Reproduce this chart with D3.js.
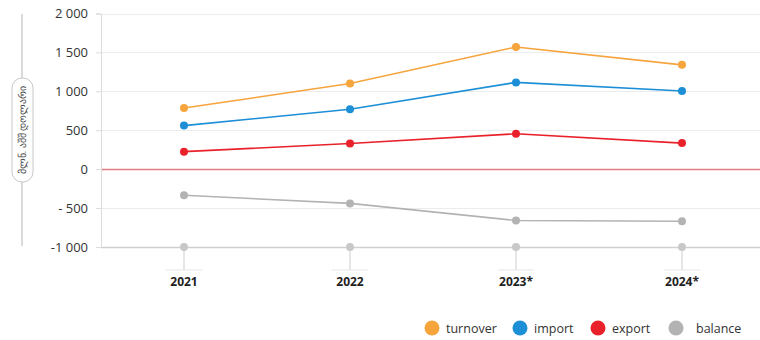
<!DOCTYPE html>
<head>
  <meta charset="utf-8">
  <script src="https://d3js.org/d3.v7.min.js"></script>
  <style>
body { margin: 0; background: #fff; }
svg { font-family: "Open Sans", "Noto Sans", sans-serif; }
  </style>
</head>
<body>
<svg width="760" height="340"></svg>
<script>
var years = ["2021", "2022", "2023*", "2024*"];
var turnover = [785, 1100, 1570, 1340];
var imports = [560, 770, 1115, 1005];
var exports = [225, 330, 455, 335];
var balance = [-335, -440, -660, -670];
var yTicks = [-1000, -500, 0, 500, 1000, 1500, 2000];
var yTickLabels = ["-1 000", "- 500", "0", "500", "1 000", "1 500", "2 000"];
var seriesNames = ["turnover", "import", "export", "balance"];
var seriesColors = ["#f6a43c", "#1d8fd6", "#e9212b", "#b3b3b3"];
var seriesValues = [turnover, imports, exports, balance];

var svg = d3.select("svg");

var x = d3.scalePoint()
    .domain(years)
    .range([101, 765])
    .padding(0.5);

var y = d3.scaleLinear()
    .domain([-1000, 2000])
    .range([247, 13.5]);

// grid
svg.append("g")
  .selectAll("line")
  .data(yTicks)
  .enter().append("line")
    .attr("x1", 101)
    .attr("x2", 760)
    .attr("y1", function(d) { return Math.round(y(d)) + 0.5; })
    .attr("y2", function(d) { return Math.round(y(d)) + 0.5; })
    .attr("stroke", function(d) { return d === 0 ? "#e27b82" : d === -1000 ? "#cfcfcf" : "#ececec"; })
    .attr("stroke-width", function(d) { return d === -1000 ? 1.5 : d === 0 ? 1.3 : 1; });

// y axis
var yAxis = svg.append("g")
    .attr("transform", "translate(101,0)")
    .call(d3.axisLeft(y)
      .tickValues(yTicks)
      .tickSize(5)
      .tickPadding(8)
      .tickFormat(function(d, i) { return yTickLabels[i]; }));
yAxis.select(".domain").attr("stroke", "#dcdcdc");
yAxis.selectAll(".tick line").attr("stroke", "#dcdcdc");
yAxis.selectAll(".tick text")
    .attr("fill", "#333")
    .attr("font-size", 13)
    .attr("font-family", "Open Sans, sans-serif");

// axis title pill
svg.append("line")
    .attr("x1", 22).attr("x2", 22)
    .attr("y1", 14).attr("y2", 246)
    .attr("stroke", "#cfcfcf")
    .attr("stroke-width", 1.5);
svg.append("rect")
    .attr("x", 12).attr("y", 78)
    .attr("width", 21).attr("height", 104)
    .attr("rx", 10)
    .attr("fill", "#fff")
    .attr("stroke", "#c8c8c8");
svg.append("text")
    .attr("transform", "translate(26,130) rotate(-90)")
    .attr("text-anchor", "middle")
    .attr("font-size", 9.5)
    .attr("fill", "#444")
    .text("მლნ. აშშ დოლარი");

// category ticks
var cat = svg.append("g").selectAll("g")
  .data(years)
  .enter().append("g")
    .attr("transform", function(d) { return "translate(" + x(d) + ",0)"; });
cat.append("line")
    .attr("y1", y(-1000)).attr("y2", 270)
    .attr("stroke", "#e6e6e6").attr("stroke-width", 2);
cat.append("line")
    .attr("x1", -18).attr("x2", 18)
    .attr("y1", 270).attr("y2", 270)
    .attr("stroke", "#e6e6e6").attr("stroke-width", 1);
cat.append("circle")
    .attr("cy", y(-1000)).attr("r", 4)
    .attr("fill", "#c8c8c8");
cat.append("text")
    .attr("y", 286)
    .attr("text-anchor", "middle")
    .attr("font-size", 12)
    .attr("font-weight", "bold")
    .attr("fill", "#222")
    .text(function(d) { return d; });

// series
var line = d3.line()
    .x(function(d, i) { return x(years[i]); })
    .y(function(d) { return y(d); });

seriesValues.forEach(function(vals, s) {
  svg.append("path")
      .datum(vals)
      .attr("fill", "none")
      .attr("stroke", seriesColors[s])
      .attr("stroke-width", 1.6)
      .attr("d", line);
  svg.append("g").selectAll("circle")
    .data(vals)
    .enter().append("circle")
      .attr("cx", function(d, i) { return x(years[i]); })
      .attr("cy", function(d) { return y(d); })
      .attr("r", 4)
      .attr("fill", seriesColors[s]);
});

// legend
var legendX = [432, 520, 598, 676];
var legend = svg.append("g").selectAll("g")
  .data(seriesNames)
  .enter().append("g")
    .attr("transform", function(d, i) { return "translate(" + legendX[i] + ",328)"; });
legend.append("circle")
    .attr("r", 7.5)
    .attr("fill", function(d, i) { return seriesColors[i]; });
legend.append("text")
    .attr("x", function(d, i) { return i == 3 ? 20 : 14; })
    .attr("y", 4.5)
    .attr("font-size", 12.5)
    .attr("fill", "#333")
    .text(function(d) { return d; });
</script>
</body>
